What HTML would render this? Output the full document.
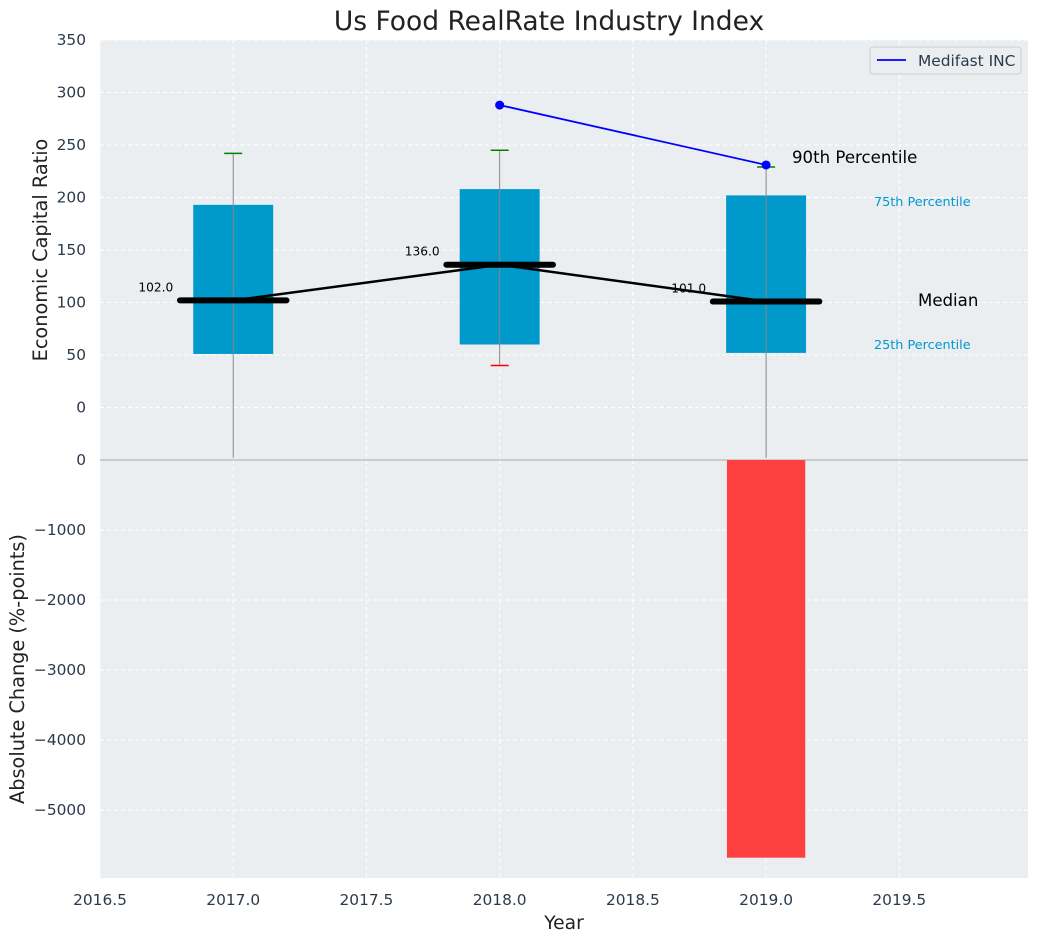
<!DOCTYPE html>
<html><head><meta charset="utf-8"><style>
body{margin:0;background:#fff;font-family:"Liberation Sans","DejaVu Sans",sans-serif}
svg text{font-family:"DejaVu Sans","Liberation Sans",sans-serif}
</style></head><body>
<svg id="c" width="1039" height="942" xmlns="http://www.w3.org/2000/svg"></svg>
<script>
const years=[2017,2018,2019];
const q25=[51,60,52];
const q75=[193,208,202];
const medians=[102,136,101];
const whiskLo=[-48,40,-48];
const whiskHi=[242,245,229];
const loCapShown=[false,true,false];
const medifastYears=[2018,2019];
const medifastVals=[288,231];
const changeYears=[2019];
const changeVals=[-5680];
const topTicks=[0,50,100,150,200,250,300,350];
const botTicks=[-5000,-4000,-3000,-2000,-1000,0];
const xTicks=[2016.5,2017,2017.5,2018,2018.5,2019,2019.5];

const NS="http://www.w3.org/2000/svg",svg=document.getElementById('c');
const L=100,R=1028,T1=40,B1=460,T2=460,B2=878;
const X=v=>L+(v-2016.5)/(2019.983-2016.5)*(R-L);
const Y1=v=>B1-(v+50)/400*(B1-T1);
const Y2=v=>T2+(-v)/5970*(B2-T2);
function el(t,a,name,txt){const e=document.createElementNS(NS,t);for(const k in a)e.setAttribute(k,a[k]);


if(txt!==undefined)e.textContent=txt;svg.appendChild(e);return e;}
el('rect',{x:L,y:T1,width:R-L,height:B1-T1,fill:'#eaeef0'},'top-plot-area');
el('rect',{x:L,y:T2,width:R-L,height:B2-T2,fill:'#eaeef0'},'bottom-plot-area');
xTicks.forEach(t=>{el('line',{x1:X(t),x2:X(t),y1:T1,y2:B2,stroke:'#fff','stroke-dasharray':'4,3','stroke-width':1},'x-grid');
el('text',{x:X(t),y:905,'text-anchor':'middle','font-size':15.4,fill:'#2b3a4a'},'x-tick-label',t.toFixed(1));});
topTicks.forEach(t=>{el('line',{x1:L,x2:R,y1:Y1(t),y2:Y1(t),stroke:'#fff','stroke-dasharray':'4,3'},'y-grid-top');
el('text',{x:86,y:Y1(t)+5,'text-anchor':'end','font-size':15.4,fill:'#2b3a4a'},'y-tick-label-top',t);});
botTicks.forEach(t=>{el('line',{x1:L,x2:R,y1:Y2(t),y2:Y2(t),stroke:'#fff','stroke-dasharray':'4,3'},'y-grid-bottom');
el('text',{x:86,y:Y2(t)+5,'text-anchor':'end','font-size':15.4,fill:'#2b3a4a'},'y-tick-label-bottom',t<0?'\u2212'+(-t):t);});
el('line',{x1:L,x2:R,y1:460,y2:460,stroke:'#aaa'},'axis-divider');
const bw=0.3,mw=0.4;
years.forEach((y,i)=>{
el('rect',{x:X(y-bw/2),y:Y1(q75[i]),width:X(y+bw/2)-X(y-bw/2),height:Y1(q25[i])-Y1(q75[i]),fill:'#0099cc'},'box-'+y);
el('line',{x1:X(y),x2:X(y),y1:Y1(whiskHi[i]),y2:Y1(whiskLo[i]),stroke:'#888'},'whisker-'+y);
el('line',{x1:X(y)-9,x2:X(y)+9,y1:Y1(whiskHi[i]),y2:Y1(whiskHi[i]),stroke:'green','stroke-width':1.5},'cap-90th-'+y);
if(loCapShown[i])el('line',{x1:X(y)-9,x2:X(y)+9,y1:Y1(whiskLo[i]),y2:Y1(whiskLo[i]),stroke:'red','stroke-width':1.5},'cap-10th-'+y);
});
el('polyline',{points:years.map((y,i)=>X(y)+','+Y1(medians[i])).join(' '),fill:'none',stroke:'#000','stroke-width':2.5},'median-line');
years.forEach((y,i)=>{
el('line',{x1:X(y-mw/2),x2:X(y+mw/2),y1:Y1(medians[i]),y2:Y1(medians[i]),stroke:'#000','stroke-width':6,'stroke-linecap':'round'},'median-'+y);
el('text',{x:X(y)-60,y:Y1(medians[i])-9,'text-anchor':'end','font-size':12.2,fill:'#000'},'median-label',medians[i].toFixed(1));
});
el('polyline',{points:medifastYears.map((y,i)=>X(y)+','+Y1(medifastVals[i])).join(' '),fill:'none',stroke:'blue','stroke-width':1.8},'medifast-line');
medifastYears.forEach((y,i)=>el('circle',{cx:X(y),cy:Y1(medifastVals[i]),r:4.5,fill:'blue'},'medifast-point'));
changeYears.forEach((y,i)=>el('rect',{x:X(y-0.147),y:Y2(0),width:X(y+0.147)-X(y-0.147),height:Y2(changeVals[i])-Y2(0),fill:'#ff4040'},'change-bar-'+y));
el('text',{x:792,y:163,'font-size':16.6,fill:'#000'},'label-90th','90th Percentile');
el('text',{x:874,y:206,'font-size':12.8,fill:'#0099cc'},'label-75th','75th Percentile');
el('text',{x:918,y:306,'font-size':16.6,fill:'#000'},'label-median','Median');
el('text',{x:874,y:349,'font-size':12.8,fill:'#0099cc'},'label-25th','25th Percentile');
el('rect',{x:870,y:47,width:151,height:27,fill:'#eaeef0',stroke:'#ccc',rx:3},'legend');
el('line',{x1:877,x2:906,y1:60,y2:60,stroke:'blue','stroke-width':1.8},'legend-swatch');
el('text',{x:918,y:66,'font-size':15.4,fill:'#2b3a4a'},'legend-entry','Medifast INC');
el('text',{x:549,y:30,'text-anchor':'middle','font-size':26.5,fill:'#222'},'chart-title','Us Food RealRate Industry Index');
el('text',{x:564,y:929,'text-anchor':'middle','font-size':18.7,fill:'#222'},'x-axis-title','Year');
el('text',{x:47,y:250,'text-anchor':'middle','font-size':19.3,fill:'#222',transform:'rotate(-90 47 250)'},'y-axis-title-top','Economic Capital Ratio');
el('text',{x:24,y:669,'text-anchor':'middle','font-size':19.3,fill:'#222',transform:'rotate(-90 24 669)'},'y-axis-title-bottom','Absolute Change (%-points)');
</script></body></html>
